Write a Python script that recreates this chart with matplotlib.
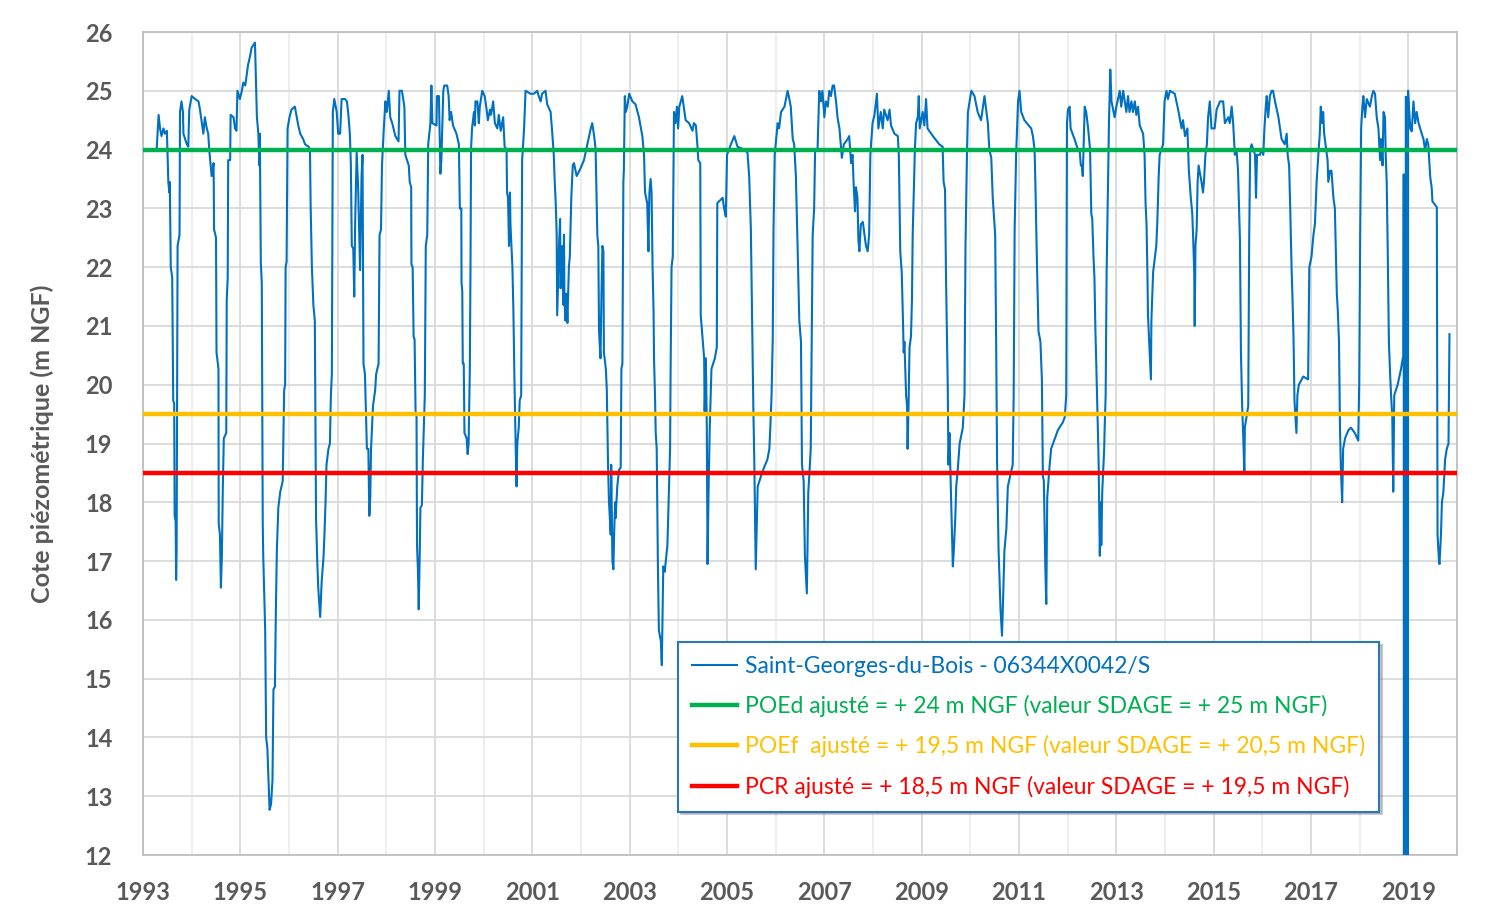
import numpy as np
import matplotlib.pyplot as plt
from matplotlib.ticker import MultipleLocator

# niveaux piezometriques (annee decimale, m NGF)
t_1993 = [1993.28, 1993.32, 1993.35, 1993.38, 1993.42, 1993.45, 1993.49, 1993.52, 1993.54, 1993.55,
          1993.57, 1993.60, 1993.62, 1993.64, 1993.65, 1993.67, 1993.68, 1993.69, 1993.71, 1993.75,
          1993.76, 1993.79, 1993.82, 1993.83, 1993.90, 1993.93, 1993.95, 1994.00, 1994.07, 1994.14,
          1994.17, 1994.21, 1994.24, 1994.27, 1994.31, 1994.34, 1994.36, 1994.38, 1994.41, 1994.45,
          1994.46, 1994.50, 1994.51, 1994.55, 1994.555, 1994.58, 1994.60, 1994.62, 1994.64, 1994.66,
          1994.71, 1994.72, 1994.74, 1994.75, 1994.79, 1994.80, 1994.86, 1994.89, 1994.92, 1994.94,
          1994.99, 1995.03, 1995.06, 1995.10, 1995.13, 1995.16, 1995.20, 1995.23, 1995.30, 1995.34,
          1995.37, 1995.39, 1995.40, 1995.42, 1995.44, 1995.46, 1995.47, 1995.51, 1995.53, 1995.555,
          1995.575, 1995.60, 1995.63, 1995.66, 1995.68, 1995.71, 1995.73, 1995.75, 1995.78, 1995.82,
          1995.87, 1995.90, 1995.92, 1995.93, 1995.95, 1995.97]
h_1993 = [24.0, 24.59, 24.36, 24.23, 24.36, 24.27, 24.32, 23.45, 23.27, 23.45,
          22.0, 21.82, 19.73, 19.68, 17.77, 17.68, 16.68, 17.18, 22.36, 22.55,
          24.64, 24.82, 24.64, 24.27, 24.09, 24.05, 24.68, 24.91, 24.86, 24.82,
          24.68, 24.45, 24.27, 24.55, 24.36, 24.27, 24.0, 23.82, 23.55, 23.77,
          22.64, 22.5, 20.55, 20.27, 17.64, 17.45, 16.55, 17.09, 18.27, 19.09,
          19.18, 21.45, 21.82, 23.82, 23.82, 24.59, 24.55, 24.36, 24.32, 25.0,
          24.86, 25.0, 25.14, 25.09, 25.27, 25.45, 25.59, 25.73, 25.82, 24.55,
          24.27, 23.73, 24.27, 22.09, 21.73, 17.64, 17.09, 15.82, 14.0, 13.82,
          13.36, 12.77, 12.86, 13.27, 14.82, 14.86, 16.18, 17.18, 17.91, 18.18,
          18.36, 19.91, 20.0, 22.0, 22.09, 24.36]

t_1996 = [1996.01, 1996.05, 1996.12, 1996.16, 1996.19, 1996.23, 1996.29, 1996.33, 1996.40, 1996.43,
          1996.445, 1996.47, 1996.50, 1996.53, 1996.555, 1996.58, 1996.60, 1996.64, 1996.67, 1996.71,
          1996.73, 1996.75, 1996.77, 1996.81, 1996.84, 1996.86, 1996.88, 1996.90, 1996.93, 1996.98,
          1997.01, 1997.05, 1997.08, 1997.15, 1997.19, 1997.22, 1997.25, 1997.27, 1997.29, 1997.32,
          1997.34, 1997.36, 1997.39, 1997.42, 1997.46, 1997.49, 1997.51, 1997.53, 1997.56, 1997.60,
          1997.63, 1997.65, 1997.67, 1997.685, 1997.705, 1997.725, 1997.77, 1997.79, 1997.84, 1997.86,
          1997.89, 1997.91, 1997.945, 1997.98, 1998.01, 1998.05, 1998.08, 1998.12, 1998.185, 1998.25,
          1998.27, 1998.32, 1998.37, 1998.39, 1998.46, 1998.48, 1998.51, 1998.515, 1998.54, 1998.56,
          1998.58, 1998.60, 1998.62, 1998.63, 1998.65, 1998.665, 1998.685, 1998.70, 1998.73, 1998.75,
          1998.77, 1998.79, 1998.81, 1998.84, 1998.86, 1998.905, 1998.925, 1998.945]
h_1996 = [24.55, 24.68, 24.73, 24.55, 24.41, 24.27, 24.18, 24.09, 24.05, 24.0,
          23.0, 22.0, 21.36, 21.09, 17.73, 17.0, 16.55, 16.05, 16.64, 17.09,
          17.5, 18.0, 18.64, 18.91, 19.0, 19.82, 20.18, 24.64, 24.86, 24.64,
          24.27, 24.27, 24.86, 24.86, 24.82, 24.59, 24.27, 23.77, 22.36, 22.32,
          21.5, 22.82, 23.95, 23.36, 21.95, 23.55, 23.91, 20.36, 20.18, 18.91,
          18.91, 17.77, 18.09, 18.91, 19.27, 19.64, 19.91, 20.18, 20.36, 22.55,
          22.64, 23.73, 24.32, 24.82, 24.64, 25.0, 24.55, 24.45, 24.23, 24.14,
          25.0, 25.0, 24.73, 23.91, 23.73, 23.45, 23.36, 22.05, 22.0, 20.82,
          20.77, 19.55, 19.45, 17.27, 16.82, 16.18, 17.09, 17.91, 17.95, 18.73,
          19.27, 19.82, 22.36, 22.55, 24.09, 24.45, 25.09, 24.45]

t_1999 = [1999.03, 1999.04, 1999.08, 1999.11, 1999.13, 1999.17, 1999.19, 1999.25, 1999.28, 1999.30,
          1999.33, 1999.37, 1999.44, 1999.49, 1999.51, 1999.54, 1999.545, 1999.56, 1999.57, 1999.59,
          1999.605, 1999.65, 1999.67, 1999.69, 1999.715, 1999.73, 1999.74, 1999.76, 1999.80, 1999.82,
          1999.83, 1999.87, 1999.90, 1999.92, 1999.97, 2000.02, 2000.06, 2000.085, 2000.13, 2000.15,
          2000.195, 2000.23, 2000.28, 2000.31, 2000.35, 2000.40, 2000.43, 2000.47, 2000.48, 2000.50,
          2000.52, 2000.54, 2000.55, 2000.59, 2000.61, 2000.63, 2000.65, 2000.675, 2000.69, 2000.72,
          2000.74, 2000.77, 2000.79, 2000.83, 2000.86, 2000.96, 2001.03, 2001.10, 2001.13, 2001.17,
          2001.20, 2001.27, 2001.305, 2001.375, 2001.41, 2001.44, 2001.46, 2001.48, 2001.50, 2001.51,
          2001.55, 2001.57, 2001.58, 2001.615, 2001.635, 2001.65, 2001.66, 2001.68, 2001.70, 2001.72,
          2001.75, 2001.77, 2001.80, 2001.83, 2001.855, 2001.91, 2001.99, 2002.06, 2002.13, 2002.20]
h_1999 = [24.41, 24.91, 24.91, 23.59, 23.82, 25.0, 25.09, 25.09, 24.91, 24.5,
          24.64, 24.41, 24.27, 24.09, 23.0, 23.0, 21.73, 21.59, 20.36, 20.36,
          19.18, 19.09, 18.82, 19.0, 20.27, 22.18, 24.0, 24.36, 24.64, 24.41,
          24.82, 24.82, 24.45, 24.73, 25.0, 24.91, 24.68, 24.5, 24.68, 24.59,
          24.82, 24.45, 24.36, 24.59, 24.32, 24.55, 24.05, 24.0, 23.27, 23.18,
          22.36, 23.27, 22.73, 22.0, 21.27, 20.18, 19.27, 18.27, 19.0, 19.27,
          19.73, 19.82, 23.82, 24.36, 25.0, 24.95, 24.95, 25.0, 24.91, 24.82,
          24.95, 25.0, 24.77, 24.64, 24.27, 23.91, 23.45, 23.09, 22.55, 21.18,
          22.41, 22.82, 21.64, 22.36, 21.36, 22.55, 21.45, 21.09, 21.55, 21.05,
          22.0, 22.18, 23.18, 23.73, 23.77, 23.55, 23.68, 23.82, 24.09, 24.36]

t_2002 = [2002.23, 2002.27, 2002.30, 2002.335, 2002.355, 2002.37, 2002.40, 2002.42, 2002.44, 2002.46,
          2002.47, 2002.51, 2002.53, 2002.555, 2002.575, 2002.61, 2002.62, 2002.645, 2002.665, 2002.68,
          2002.70, 2002.71, 2002.745, 2002.78, 2002.815, 2002.83, 2002.85, 2002.87, 2002.88, 2002.90,
          2002.92, 2002.95, 2002.99, 2003.055, 2003.12, 2003.19, 2003.26, 2003.295, 2003.315, 2003.36,
          2003.385, 2003.405, 2003.43, 2003.45, 2003.47, 2003.49, 2003.50, 2003.52, 2003.535, 2003.555,
          2003.57, 2003.58, 2003.60, 2003.64, 2003.66, 2003.67, 2003.69, 2003.72, 2003.775, 2003.80,
          2003.83, 2003.84, 2003.86, 2003.885, 2003.91, 2003.94, 2003.97, 2003.995, 2004.02, 2004.08,
          2004.15, 2004.22, 2004.29, 2004.32, 2004.36, 2004.39, 2004.41, 2004.45, 2004.46, 2004.495,
          2004.53, 2004.54, 2004.565, 2004.585, 2004.60, 2004.62, 2004.645, 2004.68, 2004.75, 2004.79,
          2004.80, 2004.91, 2004.94, 2004.975, 2005.00, 2005.08, 2005.15, 2005.215, 2005.35, 2005.42]
h_2002 = [24.45, 24.23, 24.0, 22.55, 22.36, 20.91, 20.45, 21.55, 22.36, 22.27,
          20.55, 20.27, 19.91, 18.64, 18.0, 17.45, 18.64, 17.0, 16.86, 17.45,
          18.0, 17.73, 18.27, 18.55, 18.59, 20.27, 20.36, 23.45, 23.64, 24.91,
          24.64, 24.73, 24.95, 24.82, 24.77, 24.55, 24.23, 23.91, 23.27, 23.09,
          22.27, 23.27, 23.5, 23.27, 22.0, 21.27, 20.45, 19.82, 19.18, 18.91,
          17.73, 16.91, 15.82, 15.64, 15.23, 15.82, 16.91, 16.82, 17.27, 18.0,
          18.91, 20.18, 22.0, 22.18, 24.64, 24.45, 24.73, 24.36, 24.73, 24.91,
          24.5, 24.45, 24.32, 24.45, 24.41, 24.09, 23.82, 23.77, 21.18, 20.82,
          20.45, 19.55, 20.45, 19.27, 16.95, 18.18, 19.27, 20.27, 20.45, 20.64,
          23.09, 23.18, 23.0, 22.86, 23.91, 24.09, 24.23, 24.05, 24.0, 23.95]

t_2005 = [2005.455, 2005.49, 2005.51, 2005.54, 2005.56, 2005.59, 2005.63, 2005.70, 2005.76, 2005.83,
          2005.87, 2005.89, 2005.915, 2005.94, 2005.955, 2005.98, 2006.04, 2006.07, 2006.11, 2006.18,
          2006.245, 2006.28, 2006.31, 2006.35, 2006.38, 2006.415, 2006.45, 2006.485, 2006.52, 2006.54,
          2006.575, 2006.60, 2006.64, 2006.67, 2006.69, 2006.72, 2006.76, 2006.79, 2006.81, 2006.86,
          2006.895, 2006.93, 2006.96, 2007.00, 2007.03, 2007.07, 2007.10, 2007.135, 2007.17, 2007.20,
          2007.24, 2007.27, 2007.31, 2007.34, 2007.36, 2007.40, 2007.48, 2007.51, 2007.55, 2007.58,
          2007.60, 2007.63, 2007.65, 2007.68, 2007.70, 2007.72, 2007.75, 2007.79, 2007.855, 2007.89,
          2007.92, 2007.945, 2007.99, 2008.03, 2008.08, 2008.11, 2008.16, 2008.20, 2008.23, 2008.30,
          2008.34, 2008.37, 2008.44, 2008.51, 2008.53, 2008.54, 2008.56, 2008.59, 2008.61, 2008.63,
          2008.645, 2008.68, 2008.70, 2008.71, 2008.73, 2008.75, 2008.78, 2008.80, 2008.815, 2008.835]
h_2005 = [23.55, 22.64, 21.45, 19.64, 18.73, 16.86, 18.27, 18.45, 18.59, 18.73,
          18.91, 19.27, 19.82, 20.82, 22.64, 23.91, 24.45, 24.36, 24.64, 24.73,
          25.0, 24.86, 24.73, 24.18, 24.09, 23.55, 22.36, 21.09, 20.73, 18.64,
          18.36, 17.09, 16.45, 18.18, 18.45, 18.91, 22.55, 23.0, 24.0, 24.0,
          25.0, 24.82, 25.0, 24.55, 24.82, 24.73, 25.0, 24.91, 25.09, 25.09,
          24.82, 24.55, 24.36, 24.05, 23.86, 24.09, 24.18, 24.23, 23.77, 23.91,
          23.45, 22.95, 23.36, 23.18, 22.45, 22.27, 22.73, 22.77, 22.36, 22.27,
          22.55, 23.91, 24.45, 24.59, 24.95, 24.36, 24.64, 24.36, 24.68, 24.5,
          24.68, 24.41, 24.27, 24.23, 23.91, 23.36, 22.27, 21.91, 21.27, 20.55,
          20.73, 19.82, 19.64, 18.91, 19.64, 20.64, 20.82, 21.45, 22.55, 23.18]

t_2008 = [2008.86, 2008.885, 2008.92, 2008.94, 2008.96, 2009.02, 2009.055, 2009.09, 2009.12, 2009.23,
          2009.36, 2009.43, 2009.45, 2009.48, 2009.50, 2009.535, 2009.55, 2009.57, 2009.59, 2009.62,
          2009.64, 2009.66, 2009.69, 2009.71, 2009.74, 2009.78, 2009.845, 2009.88, 2009.90, 2009.93,
          2009.95, 2010.02, 2010.085, 2010.15, 2010.22, 2010.29, 2010.36, 2010.39, 2010.43, 2010.46,
          2010.51, 2010.53, 2010.55, 2010.58, 2010.62, 2010.65, 2010.67, 2010.70, 2010.74, 2010.77,
          2010.87, 2010.89, 2010.91, 2010.94, 2010.98, 2011.01, 2011.045, 2011.11, 2011.25, 2011.285,
          2011.32, 2011.34, 2011.37, 2011.40, 2011.44, 2011.47, 2011.49, 2011.51, 2011.525, 2011.54,
          2011.56, 2011.58, 2011.63, 2011.66, 2011.70, 2011.80, 2011.90, 2011.94, 2011.97, 2011.985,
          2012.005, 2012.04, 2012.06, 2012.14, 2012.21, 2012.245, 2012.27, 2012.29, 2012.31, 2012.35,
          2012.38, 2012.42, 2012.46, 2012.485, 2012.505, 2012.53, 2012.55, 2012.57, 2012.59, 2012.61]
h_2008 = [24.0, 24.45, 24.55, 24.91, 24.36, 24.64, 24.41, 24.86, 24.36, 24.23,
          24.09, 24.05, 23.45, 23.32, 21.82, 20.0, 18.64, 19.18, 18.55, 17.55,
          16.91, 17.18, 17.73, 18.27, 18.55, 19.0, 19.27, 19.82, 22.36, 23.91,
          24.64, 25.0, 24.91, 24.64, 24.5, 24.91, 24.45, 24.0, 23.86, 23.18,
          22.55, 20.73, 18.64, 17.18, 16.18, 15.73, 16.27, 17.18, 17.55, 18.27,
          18.64, 19.82, 22.64, 23.91, 24.82, 25.0, 24.64, 24.5, 24.36, 24.23,
          24.0, 23.27, 22.0, 20.91, 20.73, 20.09, 18.45, 18.36, 17.64, 16.91,
          16.27, 18.09, 18.64, 18.91, 19.0, 19.23, 19.36, 19.45, 19.82, 24.45,
          24.68, 24.73, 24.36, 24.18, 24.0, 24.0, 23.73, 23.73, 23.55, 24.73,
          24.64, 24.36, 24.0, 22.91, 22.82, 22.18, 21.82, 20.91, 20.27, 19.55]

t_2012 = [2012.635, 2012.66, 2012.68, 2012.69, 2012.71, 2012.75, 2012.76, 2012.78, 2012.80, 2012.83,
          2012.85, 2012.86, 2012.875, 2012.90, 2012.965, 2013.00, 2013.07, 2013.10, 2013.14, 2013.205,
          2013.24, 2013.27, 2013.31, 2013.34, 2013.38, 2013.41, 2013.445, 2013.48, 2013.55, 2013.58,
          2013.60, 2013.62, 2013.64, 2013.65, 2013.685, 2013.71, 2013.72, 2013.755, 2013.82, 2013.84,
          2013.87, 2013.89, 2013.96, 2013.99, 2014.03, 2014.06, 2014.10, 2014.20, 2014.27, 2014.34,
          2014.37, 2014.41, 2014.46, 2014.49, 2014.53, 2014.56, 2014.58, 2014.60, 2014.61, 2014.625,
          2014.65, 2014.67, 2014.69, 2014.75, 2014.78, 2014.80, 2014.83, 2014.86, 2014.885, 2014.92,
          2014.955, 2015.02, 2015.06, 2015.13, 2015.195, 2015.23, 2015.30, 2015.33, 2015.37, 2015.40,
          2015.435, 2015.47, 2015.50, 2015.54, 2015.56, 2015.585, 2015.605, 2015.63, 2015.64, 2015.71,
          2015.73, 2015.75, 2015.78, 2015.85, 2015.87, 2015.89, 2015.95, 2015.98, 2016.02, 2016.04]
h_2012 = [18.73, 17.09, 18.0, 17.27, 18.18, 18.91, 19.27, 19.82, 21.91, 23.45,
          24.55, 24.82, 25.36, 24.82, 24.55, 24.73, 25.0, 24.73, 25.0, 24.64,
          24.91, 24.64, 24.82, 24.64, 24.82, 24.59, 24.73, 24.41, 24.27, 23.91,
          23.09, 22.73, 21.82, 21.18, 20.55, 20.09, 21.09, 21.91, 22.36, 22.73,
          23.55, 23.91, 24.09, 24.82, 25.0, 24.86, 25.0, 24.95, 24.68, 24.36,
          24.5, 24.23, 24.36, 23.64, 23.18, 22.91, 22.45, 21.91, 21.0, 22.36,
          22.64, 23.45, 23.73, 23.45, 23.27, 23.45, 23.91, 24.09, 24.55, 24.82,
          24.36, 24.36, 24.68, 24.82, 24.82, 24.45, 24.55, 24.45, 24.73, 24.45,
          23.91, 24.0, 23.64, 22.45, 20.55, 19.64, 19.18, 18.5, 19.27, 19.64,
          22.55, 24.0, 24.09, 23.91, 23.18, 23.91, 23.91, 24.0, 23.91, 24.32]

t_2016 = [2016.07, 2016.09, 2016.12, 2016.155, 2016.19, 2016.22, 2016.26, 2016.33, 2016.395, 2016.46,
          2016.50, 2016.52, 2016.55, 2016.57, 2016.60, 2016.62, 2016.64, 2016.66, 2016.68, 2016.70,
          2016.72, 2016.75, 2016.84, 2016.94, 2016.965, 2017.01, 2017.05, 2017.08, 2017.115, 2017.15,
          2017.18, 2017.20, 2017.23, 2017.25, 2017.27, 2017.34, 2017.355, 2017.39, 2017.42, 2017.46,
          2017.49, 2017.53, 2017.55, 2017.575, 2017.595, 2017.615, 2017.64, 2017.66, 2017.70, 2017.77,
          2017.82, 2017.90, 2017.97, 2017.99, 2018.01, 2018.03, 2018.055, 2018.075, 2018.11, 2018.145,
          2018.21, 2018.25, 2018.28, 2018.315, 2018.35, 2018.385, 2018.42, 2018.44, 2018.47, 2018.49,
          2018.52, 2018.535, 2018.555, 2018.575, 2018.60, 2018.625, 2018.645, 2018.67, 2018.69, 2018.71,
          2018.78, 2018.85, 2018.885, 2018.90, 2018.905, 2018.91, 2018.945, 2018.95, 2018.955, 2018.99,
          2018.995, 2019.00]
h_2016 = [24.73, 24.91, 24.55, 24.91, 25.0, 25.0, 24.82, 24.55, 24.18, 24.09,
          24.27, 23.91, 23.73, 23.09, 22.0, 21.45, 20.82, 19.73, 19.45, 19.18,
          19.82, 20.0, 20.14, 20.09, 22.0, 22.18, 22.55, 22.73, 23.45, 23.91,
          24.27, 24.73, 24.45, 24.64, 24.27, 23.82, 23.45, 23.64, 23.64, 23.18,
          23.0, 21.55, 21.27, 20.73, 19.27, 18.55, 18.0, 18.91, 19.09, 19.23,
          19.27, 19.18, 19.05, 20.0, 22.55, 24.36, 24.73, 24.91, 24.55, 24.86,
          24.73, 24.91, 25.0, 24.95, 24.55, 24.36, 23.82, 24.18, 23.73, 24.64,
          24.55, 23.91, 23.45, 22.36, 20.73, 20.18, 19.82, 19.45, 18.18, 19.82,
          20.0, 20.27, 20.45, 20.45, 23.58, 0.0, 0.0, 24.9, 0.0, 0.0,
          25.0, 24.9]

t_2019 = [2019.04, 2019.07, 2019.105, 2019.14, 2019.17, 2019.21, 2019.275, 2019.31, 2019.345, 2019.38,
          2019.41, 2019.45, 2019.48, 2019.495, 2019.585, 2019.60, 2019.63, 2019.64, 2019.67, 2019.69,
          2019.72, 2019.755, 2019.79, 2019.825, 2019.845]
h_2019 = [24.36, 24.31, 24.82, 24.45, 24.64, 24.45, 24.27, 24.18, 23.99, 24.18,
          24.08, 23.53, 23.35, 23.12, 23.02, 17.45, 16.99, 16.95, 17.45, 18.0,
          18.18, 18.73, 18.91, 19.0, 20.86]

dates = np.concatenate([t_1993, t_1996, t_1999, t_2002, t_2005, t_2008, t_2012, t_2016, t_2019])
niveaux = np.concatenate([h_1993, h_1996, h_1999, h_2002, h_2005, h_2008, h_2012, h_2016, h_2019])

seuils = [24.0, 19.5, 18.5]
couleurs_seuils = ['#00B050', '#FFC000', '#FF0000']
noms = ['Saint-Georges-du-Bois - 06344X0042/S',
        'POEd ajusté = + 24 m NGF (valeur SDAGE = + 25 m NGF)',
        'POEf  ajusté = + 19,5 m NGF (valeur SDAGE = + 20,5 m NGF)',
        'PCR ajusté = + 18,5 m NGF (valeur SDAGE = + 19,5 m NGF)']
bleu = '#0070C0'
gris = '#595959'

plt.rcParams['font.family'] = ['Lato', 'DejaVu Sans']

fig = plt.figure(figsize=(14.93, 9.07), dpi=100)
ax = fig.add_axes([0.0958, 0.0573, 0.8801, 0.9074])

ax.plot(dates, niveaux, color=bleu, lw=1.5, label=noms[0], zorder=3)
for s, c, n in zip(seuils, couleurs_seuils, noms[1:]):
    ax.axhline(s, color=c, lw=3.2, label=n, zorder=4)

ax.set_xlim(1993, 2020)
ax.set_ylim(12, 26)
ax.xaxis.set_minor_locator(MultipleLocator(1))
ax.set_xticks(np.arange(1993, 2020, 2))
ax.yaxis.set_major_locator(MultipleLocator(1))
ax.grid(True, which='major', color='#D9D9D9', lw=1.3, zorder=0)
ax.grid(True, which='minor', axis='x', color='#EDEDED', lw=1.3, zorder=0)
ax.set_axisbelow(True)
ax.tick_params(which='both', length=0)
ax.tick_params(axis='y', pad=22, labelsize=17, labelcolor=gris)
ax.tick_params(axis='x', pad=19, labelsize=17, labelcolor=gris)
for lab in ax.get_xticklabels() + ax.get_yticklabels():
    lab.set_fontweight('bold')
for sp in ax.spines.values():
    sp.set_color('#BFBFBF')
    sp.set_linewidth(1.3)

ax.set_ylabel('Cote piézométrique (m NGF)', fontsize=18, fontweight='bold', color=gris, labelpad=22)

leg = ax.legend(loc='upper left', bbox_to_anchor=(0.407, 0.259), borderaxespad=0,
                fontsize=16.5, frameon=True, fancybox=False, handlelength=2.0,
                handletextpad=0.35, labelspacing=0.8, borderpad=0.6,
                shadow={'color': '#9a9a9a', 'alpha': 0.5})
leg.get_frame().set_edgecolor('#2E75B6')
leg.get_frame().set_linewidth(1.5)
for txt, c in zip(leg.get_texts(), [bleu] + couleurs_seuils):
    txt.set_color(c)

fig.savefig('out.png', dpi=100)
